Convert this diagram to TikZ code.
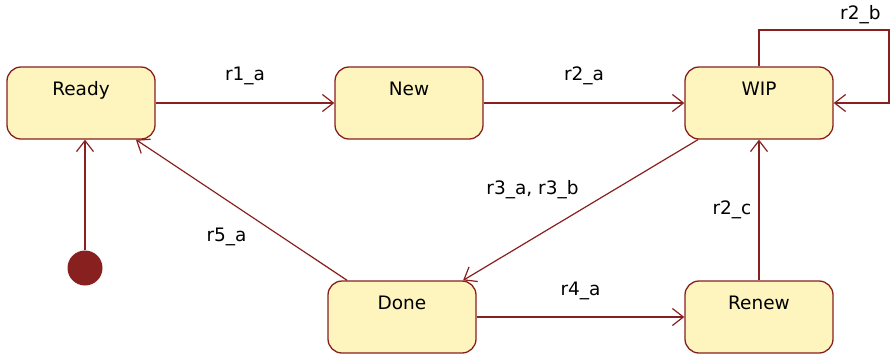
\documentclass[tikz,border=0pt]{standalone}
\usepackage{fontspec}
\setmainfont{DejaVu Sans}
\usetikzlibrary{positioning,arrows.meta,calc}
\definecolor{stline}{RGB}{135,32,30}
\definecolor{stfill}{RGB}{254,244,190}
\tikzset{state/.style={draw=stline,fill=stfill,line width=1.3pt,rounded corners=14pt,minimum width=148pt,inner xsep=0pt,inner ysep=0pt,text height=28pt,text depth=44pt,font=\fontsize{18.5}{21}\selectfont}}
\tikzset{tran/.style={draw=stline,line width=1.2pt,-{Straight Barb[length=11pt,width=17pt,line width=1.2pt]}}}
\tikzset{lbl/.style={font=\fontsize{18.5}{21}\selectfont,inner sep=0pt}}

\begin{document}
\begin{tikzpicture}[x=1pt,y=-1pt]
  \useasboundingbox (0,0) rectangle (891,354);
  % states
  \node[state] (ready) at (81,103) {Ready};
  \node[state] (new) at (409,103) {New};
  \node[state] (wip) at (759,103) {WIP};
  \node[state] (done) at (402,317) {Done};
  \node[state] (renew) at (759,317) {Renew};
  \node[circle,fill=stline,minimum size=35pt,inner sep=0pt] (init) at (85,268) {};
  \coordinate (loop) at (889,30);
  % transitions
  \draw[tran] (init) -- (init |- ready.south);
  \draw[tran] (ready) -- node[lbl,yshift=27pt] {r1\_a} (new);
  \draw[tran] (new) -- node[lbl,yshift=27pt] {r2\_a} (wip);
  \draw[tran] (wip.north) |- node[lbl,pos=0.89,yshift=15pt] {r2\_b} (loop) |- (wip.east);
  \draw[tran] (wip) -- node[lbl,xshift=-48pt,yshift=20pt] {r3\_a, r3\_b} (done);
  \draw[tran] (renew) -- node[lbl,xshift=-27pt] {r2\_c} (wip);
  \draw[tran] (done) -- node[lbl,yshift=26pt] {r4\_a} (renew);
  \draw[tran] (done) -- node[lbl,xshift=-15pt,yshift=-27pt] {r5\_a} (ready);
\end{tikzpicture}
\end{document}
